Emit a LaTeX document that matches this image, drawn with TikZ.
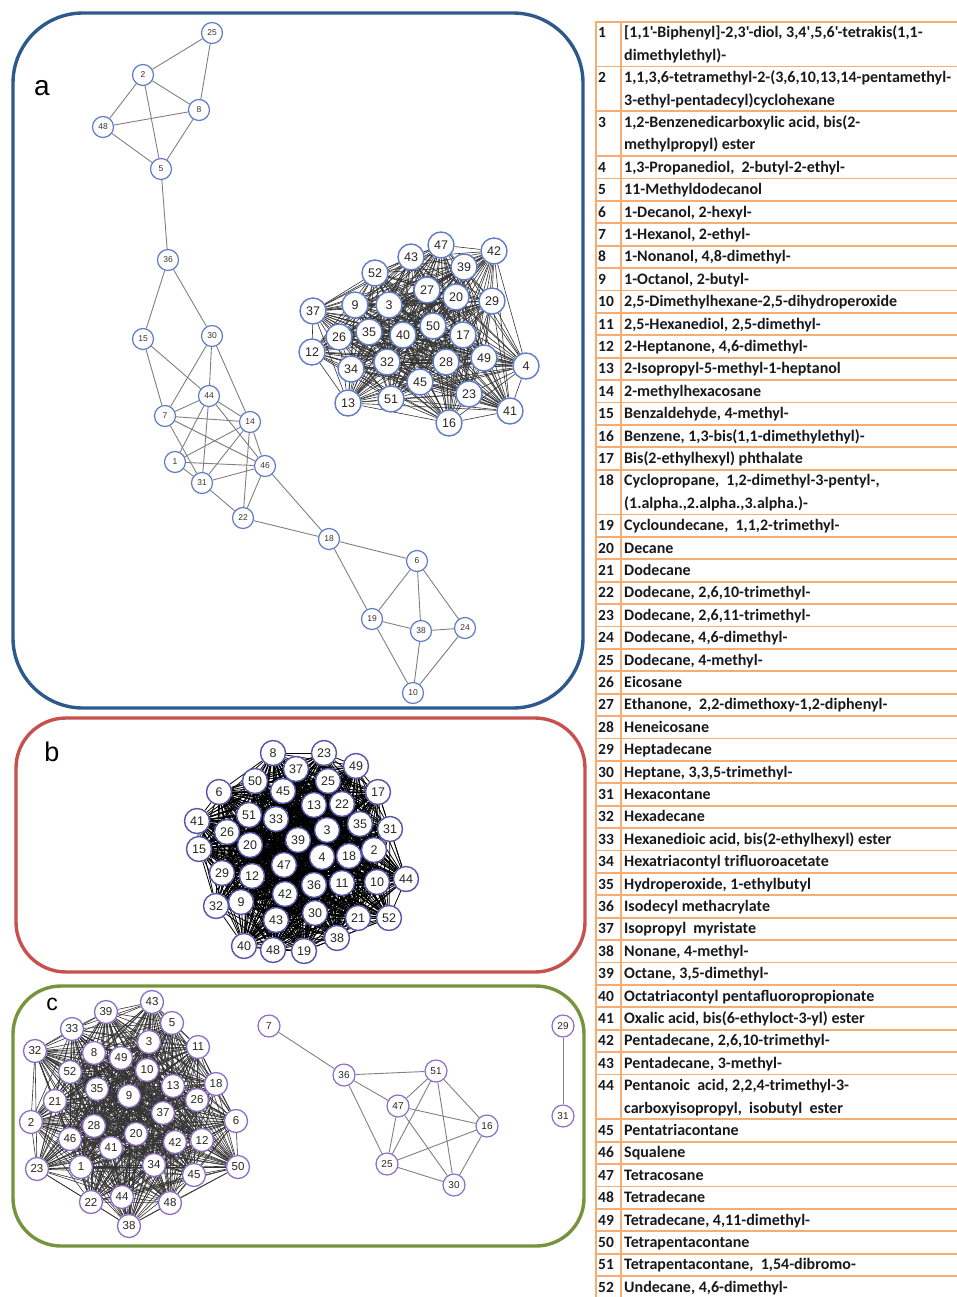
\documentclass[tikz,border=0pt]{standalone}
\usepackage{fontspec}
\setmainfont{Liberation Sans}
\newfontfamily\tabfont{Carlito}
\usetikzlibrary{backgrounds}
\definecolor{pa}{RGB}{46,89,140}
\definecolor{pb}{RGB}{200,80,77}
\definecolor{pc}{RGB}{119,147,60}
\definecolor{na}{RGB}{95,125,200}
\definecolor{nb}{RGB}{85,85,170}
\definecolor{nc}{RGB}{140,110,200}
\definecolor{tline}{RGB}{248,172,112}
\newcommand\mytabrow[3]{%
  \node[tnum] (r#2) at (598,{35.2+22.4*#1}) {#2};
  \node[ttext] (s#2) at (624,{35.2+22.4*#1}) {#3};}
\newcommand\mytabmore[3]{%
  \node[ttext] (s#2b) at (624,{35.2+22.4*#1}) {#3};}
\def\clA{47,42,43,39,52,27,20,29,37,9,3,50,26,35,40,17,12,34,32,28,49,4,45,23,13,51,41,16}
\def\clB{8,23,49,37,50,25,6,45,17,13,22,41,51,33,35,31,26,3,39,15,20,2,4,18,47,29,12,36,11,10,44,42,32,9,30,43,21,52,38,40,48,19}
\def\clC{43,39,5,33,32,3,8,49,11,10,52,18,35,9,13,21,26,37,6,2,28,20,42,12,46,41,1,23,34,50,45,22,44,48,38}
\begin{document}
\begin{tikzpicture}[x=1pt,y=-1pt,
  panel/.style={line width=3.4pt},
  sn/.style={circle, draw=na, fill=white, line width=1.2pt, minimum size=21pt, inner sep=0pt, font=\fontsize{8.5}{8.5}\selectfont, text=black!80},
  ln/.style={circle, draw=na, fill=white, line width=1.4pt, minimum size=26pt, inner sep=0pt, font=\fontsize{12.5}{12.5}\selectfont, text=black!85},
  bn/.style={circle, draw=nb, fill=white, line width=1.4pt, minimum size=25pt, inner sep=0pt, font=\fontsize{12.5}{12.5}\selectfont, text=black!85},
  cn/.style={circle, draw=nc, fill=white, line width=1.3pt, minimum size=23pt, inner sep=0pt, font=\fontsize{11.5}{11.5}\selectfont, text=black!85},
  csn/.style={circle, draw=nc, fill=white, line width=1.2pt, minimum size=22pt, inner sep=0pt, font=\fontsize{10}{10}\selectfont, text=black!85},
  ce/.style={draw=black!50, line width=0.9pt},
  kea/.style={draw=black!80, line width=0.6pt},
  keb/.style={draw=black, line width=0.8pt},
  kec/.style={draw=black!80, line width=0.6pt},
  plabel/.style={inner sep=0pt, anchor=center},
  tnum/.style={anchor=mid west, inner sep=0pt, text=black!90, font=\tabfont\bfseries\fontsize{15.5}{15.5}\selectfont},
  ttext/.style={anchor=mid west, inner sep=0pt, text=black!90, font=\tabfont\bfseries\fontsize{16}{16}\selectfont},
  tl/.style={draw=tline, line width=1.8pt}
]
\useasboundingbox (0,0) rectangle (957,1297);

% ---------------- panels ----------------
\draw[panel, draw=pa, rounded corners=70pt] (13,13) rectangle (583,708);
\draw[panel, draw=pb, rounded corners=50pt] (16,718) rectangle (585,972);
\draw[panel, draw=pc, rounded corners=48pt] (13,986) rectangle (584,1246);
\node[plabel, font=\fontsize{28}{28}\selectfont] (la) at (42,88) {a};
\node[plabel, font=\fontsize{27}{27}\selectfont] (lb) at (52,752) {b};
\node[plabel, font=\fontsize{23}{23}\selectfont] (lc) at (52,1004) {c};

% ---------------- panel a: chain ----------------
\node[sn] (a25) at (212,33) {25};
\node[sn] (a2) at (143,75) {2};
\node[sn] (a8) at (199,110) {8};
\node[sn] (a48) at (103,127) {48};
\node[sn] (a5) at (161,169) {5};
\node[sn] (a36) at (168,260) {36};
\node[sn] (a15) at (143,339) {15};
\node[sn] (a30) at (212,336) {30};
\node[sn] (a44) at (209,396) {44};
\node[sn] (a7) at (165,416) {7};
\node[sn] (a14) at (250,422) {14};
\node[sn] (a1) at (175,462) {1};
\node[sn] (a46) at (265,466) {46};
\node[sn] (a31) at (202,483) {31};
\node[sn] (a22) at (243,518) {22};
\node[sn] (a18) at (329,539) {18};
\node[sn] (a6) at (417,561) {6};
\node[sn] (a19) at (372,619) {19};
\node[sn] (a38) at (421,631) {38};
\node[sn] (a24) at (465,628) {24};
\node[sn] (a10) at (413,693) {10};

% ---------------- panel a: cluster ----------------
\node[ln] (a47) at (441,245) {47};
\node[ln] (a42) at (494,251) {42};
\node[ln] (a43) at (411,257) {43};
\node[ln] (a39) at (464,267) {39};
\node[ln] (a52) at (375,273) {52};
\node[ln] (a27) at (427,290) {27};
\node[ln] (a20) at (456,297) {20};
\node[ln] (a29) at (492,301) {29};
\node[ln] (a37) at (313,311) {37};
\node[ln] (a9) at (355,305) {9};
\node[ln] (a3) at (389,305) {3};
\node[ln] (a50) at (433,326) {50};
\node[ln] (a26) at (339,337) {26};
\node[ln] (a35) at (369,332) {35};
\node[ln] (a40) at (403,335) {40};
\node[ln] (a17) at (463,335) {17};
\node[ln] (a12) at (312,352) {12};
\node[ln] (a34) at (351,369) {34};
\node[ln] (a32) at (387,362) {32};
\node[ln] (a28) at (446,362) {28};
\node[ln] (a49) at (484,358) {49};
\node[ln] (a4) at (526,366) {4};
\node[ln] (a45) at (420,382) {45};
\node[ln] (a23) at (469,394) {23};
\node[ln] (a13) at (348,403) {13};
\node[ln] (a51) at (391,399) {51};
\node[ln] (a41) at (510,411) {41};
\node[ln] (a16) at (449,423) {16};

% ---------------- panel b ----------------
\node[bn] (b8) at (273,753) {8};
\node[bn] (b23) at (324,753) {23};
\node[bn] (b49) at (356,766) {49};
\node[bn] (b37) at (296,769) {37};
\node[bn] (b50) at (255,781) {50};
\node[bn] (b25) at (328,781) {25};
\node[bn] (b6) at (219,792) {6};
\node[bn] (b45) at (283,791) {45};
\node[bn] (b17) at (378,792) {17};
\node[bn] (b13) at (314,805) {13};
\node[bn] (b22) at (342,804) {22};
\node[bn] (b41) at (197,821) {41};
\node[bn] (b51) at (249,815) {51};
\node[bn] (b33) at (276,819) {33};
\node[bn] (b35) at (360,824) {35};
\node[bn] (b31) at (390,829) {31};
\node[bn] (b26) at (227,832) {26};
\node[bn] (b3) at (327,830) {3};
\node[bn] (b39) at (298,840) {39};
\node[bn] (b15) at (199,849) {15};
\node[bn] (b20) at (250,845) {20};
\node[bn] (b2) at (374,850) {2};
\node[bn] (b4) at (322,857) {4};
\node[bn] (b18) at (349,856) {18};
\node[bn] (b47) at (284,865) {47};
\node[bn] (b29) at (222,873) {29};
\node[bn] (b12) at (252,876) {12};
\node[bn] (b36) at (314,885) {36};
\node[bn] (b11) at (342,883) {11};
\node[bn] (b10) at (377,882) {10};
\node[bn] (b44) at (406,879) {44};
\node[bn] (b42) at (285,894) {42};
\node[bn] (b32) at (216,906) {32};
\node[bn] (b9) at (241,902) {9};
\node[bn] (b30) at (315,913) {30};
\node[bn] (b43) at (276,920) {43};
\node[bn] (b21) at (358,918) {21};
\node[bn] (b52) at (389,918) {52};
\node[bn] (b38) at (337,938) {38};
\node[bn] (b40) at (244,946) {40};
\node[bn] (b48) at (273,950) {48};
\node[bn] (b19) at (304,951) {19};

% ---------------- panel c: cluster ----------------
\node[cn] (c43) at (152,1002) {43};
\node[cn] (c39) at (106,1012) {39};
\node[cn] (c5) at (172,1023) {5};
\node[cn] (c33) at (72,1029) {33};
\node[cn] (c32) at (35,1051) {32};
\node[cn] (c3) at (149,1042) {3};
\node[cn] (c8) at (94,1053) {8};
\node[cn] (c49) at (121,1058) {49};
\node[cn] (c11) at (198,1047) {11};
\node[cn] (c10) at (147,1070) {10};
\node[cn] (c52) at (70,1072) {52};
\node[cn] (c18) at (216,1084) {18};
\node[cn] (c35) at (97,1089) {35};
\node[cn] (c9) at (129,1096) {9};
\node[cn] (c13) at (173,1086) {13};
\node[cn] (c21) at (55,1101) {21};
\node[cn] (c26) at (197,1100) {26};
\node[cn] (c37) at (163,1113) {37};
\node[cn] (c6) at (236,1121) {6};
\node[cn] (c2) at (31,1122) {2};
\node[cn] (c28) at (94,1126) {28};
\node[cn] (c20) at (136,1134) {20};
\node[cn] (c42) at (175,1142) {42};
\node[cn] (c12) at (202,1140) {12};
\node[cn] (c46) at (70,1139) {46};
\node[cn] (c41) at (111,1148) {41};
\node[cn] (c1) at (81,1167) {1};
\node[cn] (c23) at (37,1169) {23};
\node[cn] (c34) at (154,1165) {34};
\node[cn] (c50) at (238,1167) {50};
\node[cn] (c45) at (194,1175) {45};
\node[cn] (c22) at (91,1202) {22};
\node[cn] (c44) at (122,1197) {44};
\node[cn] (c48) at (170,1203) {48};
\node[cn] (c38) at (129,1226) {38};

% ---------------- panel c: small graphs ----------------
\node[csn] (c7) at (269,1026) {7};
\node[csn] (c36) at (344,1075) {36};
\node[csn] (c51) at (436,1071) {51};
\node[csn] (c47) at (398,1106) {47};
\node[csn] (c16) at (487,1126) {16};
\node[csn] (c25) at (387,1164) {25};
\node[csn] (c30) at (454,1185) {30};
\node[csn] (c29) at (563,1026) {29};
\node[csn] (c31) at (563,1116) {31};

% ---------------- edges ----------------
\begin{pgfonlayer}{background}
\foreach \u/\v in {25/2,25/8,2/8,2/48,2/5,48/8,48/5,8/5,5/36,36/15,36/30,15/7,15/44,30/7,30/44,30/14,44/7,44/14,44/46,44/31,44/1,7/14,7/46,7/31,14/1,14/31,14/46,14/22,1/46,1/31,31/46,31/22,46/22,46/18,22/18,18/6,18/19,6/19,6/38,6/24,19/38,19/10,38/24,38/10,24/10}
  \draw[ce] (a\u) -- (a\v);
\foreach \u [count=\i] in \clA {
  \foreach \v [count=\j] in \clA {
    \ifnum\j>\i \draw[kea] (a\u) -- (a\v); \fi
  }
}
\foreach \u [count=\i] in \clB {
  \foreach \v [count=\j] in \clB {
    \ifnum\j>\i \draw[keb] (b\u) -- (b\v); \fi
  }
}
\foreach \u [count=\i] in \clC {
  \foreach \v [count=\j] in \clC {
    \ifnum\j>\i \draw[kec] (c\u) -- (c\v); \fi
  }
}
\foreach \u/\v in {7/36,36/51,36/47,36/25,51/47,51/25,51/30,51/16,47/16,47/25,47/30,16/25,16/30,25/30,29/31}
  \draw[ce] (c\u) -- (c\v);
\end{pgfonlayer}

% ---------------- table ----------------
\foreach \k in {0,2,4,6,7,8,9,10,11,12,13,14,15,16,17,18,19,20,22,23,24,25,26,27,28,29,30,31,32,33,34,35,36,37,38,39,40,41,42,43,44,45,46,47,49,50,51,52,53,54,55,56,57}
  \draw[tl] (596,{21.7+22.4*\k}) -- (957,{21.7+22.4*\k});
\draw[tl] (596,20.8) -- (596,1297);
\draw[tl] (621,20.8) -- (621,1297);

\mytabrow{0}{1}{[1,1'-Biphenyl]-2,3'-diol, 3,4',5,6'-tetrakis(1,1-}
\mytabmore{1}{1}{dimethylethyl)-}
\mytabrow{2}{2}{1,1,3,6-tetramethyl-2-(3,6,10,13,14-pentamethyl-}
\mytabmore{3}{2}{3-ethyl-pentadecyl)cyclohexane}
\mytabrow{4}{3}{1,2-Benzenedicarboxylic acid, bis(2-}
\mytabmore{5}{3}{methylpropyl) ester}
\mytabrow{6}{4}{1,3-Propanediol,\ \ 2-butyl-2-ethyl-}
\mytabrow{7}{5}{11-Methyldodecanol}
\mytabrow{8}{6}{1-Decanol, 2-hexyl-}
\mytabrow{9}{7}{1-Hexanol, 2-ethyl-}
\mytabrow{10}{8}{1-Nonanol, 4,8-dimethyl-}
\mytabrow{11}{9}{1-Octanol, 2-butyl-}
\mytabrow{12}{10}{2,5-Dimethylhexane-2,5-dihydroperoxide}
\mytabrow{13}{11}{2,5-Hexanediol, 2,5-dimethyl-}
\mytabrow{14}{12}{2-Heptanone, 4,6-dimethyl-}
\mytabrow{15}{13}{2-Isopropyl-5-methyl-1-heptanol}
\mytabrow{16}{14}{2-methylhexacosane}
\mytabrow{17}{15}{Benzaldehyde, 4-methyl-}
\mytabrow{18}{16}{Benzene, 1,3-bis(1,1-dimethylethyl)-}
\mytabrow{19}{17}{Bis(2-ethylhexyl) phthalate}
\mytabrow{20}{18}{Cyclopropane,\ \ 1,2-dimethyl-3-pentyl-,}
\mytabmore{21}{18}{(1.alpha.,2.alpha.,3.alpha.)-}
\mytabrow{22}{19}{Cycloundecane,\ \ 1,1,2-trimethyl-}
\mytabrow{23}{20}{Decane}
\mytabrow{24}{21}{Dodecane}
\mytabrow{25}{22}{Dodecane, 2,6,10-trimethyl-}
\mytabrow{26}{23}{Dodecane, 2,6,11-trimethyl-}
\mytabrow{27}{24}{Dodecane, 4,6-dimethyl-}
\mytabrow{28}{25}{Dodecane, 4-methyl-}
\mytabrow{29}{26}{Eicosane}
\mytabrow{30}{27}{Ethanone,\ \ 2,2-dimethoxy-1,2-diphenyl-}
\mytabrow{31}{28}{Heneicosane}
\mytabrow{32}{29}{Heptadecane}
\mytabrow{33}{30}{Heptane, 3,3,5-trimethyl-}
\mytabrow{34}{31}{Hexacontane}
\mytabrow{35}{32}{Hexadecane}
\mytabrow{36}{33}{Hexanedioic acid, bis(2-ethylhexyl) ester}
\mytabrow{37}{34}{Hexatriacontyl trifluoroacetate}
\mytabrow{38}{35}{Hydroperoxide, 1-ethylbutyl}
\mytabrow{39}{36}{Isodecyl methacrylate}
\mytabrow{40}{37}{Isopropyl\ \ myristate}
\mytabrow{41}{38}{Nonane, 4-methyl-}
\mytabrow{42}{39}{Octane, 3,5-dimethyl-}
\mytabrow{43}{40}{Octatriacontyl pentafluoropropionate}
\mytabrow{44}{41}{Oxalic acid, bis(6-ethyloct-3-yl) ester}
\mytabrow{45}{42}{Pentadecane, 2,6,10-trimethyl-}
\mytabrow{46}{43}{Pentadecane, 3-methyl-}
\mytabrow{47}{44}{Pentanoic\ \ acid, 2,2,4-trimethyl-3-}
\mytabmore{48}{44}{carboxyisopropyl,\ \ isobutyl\ \ ester}
\mytabrow{49}{45}{Pentatriacontane}
\mytabrow{50}{46}{Squalene}
\mytabrow{51}{47}{Tetracosane}
\mytabrow{52}{48}{Tetradecane}
\mytabrow{53}{49}{Tetradecane, 4,11-dimethyl-}
\mytabrow{54}{50}{Tetrapentacontane}
\mytabrow{55}{51}{Tetrapentacontane,\ \ 1,54-dibromo-}
\mytabrow{56}{52}{Undecane, 4,6-dimethyl-}
\end{tikzpicture}
\end{document}
